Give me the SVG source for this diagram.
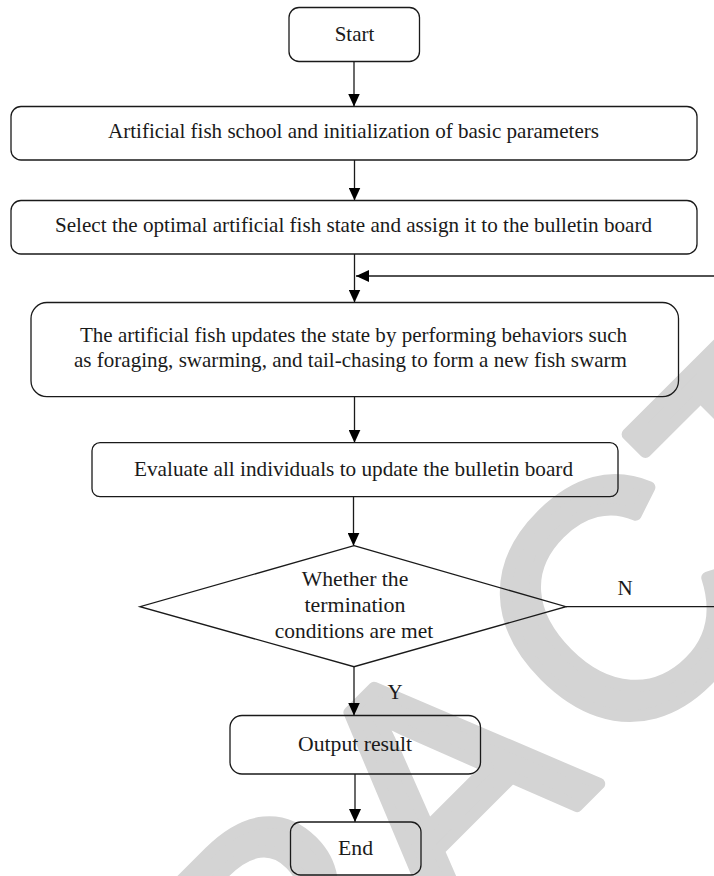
<svg xmlns="http://www.w3.org/2000/svg" width="714" height="876" viewBox="0 0 714 876">
<defs>
<style>
.box{fill:none;stroke:#1a1a1a;stroke-width:1.3}
.ln{fill:none;stroke:#1a1a1a;stroke-width:1.3}
.t{font-family:"Liberation Serif","Times New Roman",serif;font-size:21px;fill:#1a1a1a;text-anchor:middle}
.wm{font-family:"Liberation Sans",Arial,sans-serif;font-size:330px;fill:#d4d4d4;stroke:#d4d4d4;stroke-width:12;stroke-linejoin:round}
</style>
<marker id="ah" markerUnits="userSpaceOnUse" markerWidth="13" markerHeight="12" refX="13" refY="6" orient="auto">
<path d="M0,0 L13,6 L0,12 z" fill="#000"/>
</marker>
</defs>
<rect width="714" height="876" fill="#fff"/>
<g id="watermark">
<text class="wm" transform="translate(444,939) rotate(-45)" x="-898.3 -660 -439.9 -238.3 0 241 479.3 680.9 901" y="0">RETRACTED</text>
</g>
<g id="connectors">
<line class="ln" x1="354" y1="61.7" x2="354" y2="106.5" marker-end="url(#ah)"/>
<line class="ln" x1="354.5" y1="160" x2="354.5" y2="200.5" marker-end="url(#ah)"/>
<line class="ln" x1="354.5" y1="254" x2="354.5" y2="302.5" marker-end="url(#ah)"/>
<polyline class="ln" points="566,606.7 722,606.7 722,276 356,276" marker-end="url(#ah)"/>
<line class="ln" x1="354.5" y1="396.7" x2="354.5" y2="442.7" marker-end="url(#ah)"/>
<line class="ln" x1="353.5" y1="496.7" x2="353.5" y2="545.7" marker-end="url(#ah)"/>
<line class="ln" x1="354" y1="666.7" x2="354" y2="715.5" marker-end="url(#ah)"/>
<line class="ln" x1="355" y1="774" x2="355" y2="822" marker-end="url(#ah)"/>
<text class="t" x="625" y="595">N</text>
<text class="t" x="395" y="699">Y</text>
</g>
<g id="start">
<rect class="box" x="289" y="7.5" width="130.5" height="54" rx="10"/>
<text class="t" x="354.5" y="40.5" textLength="39.6" lengthAdjust="spacingAndGlyphs">Start</text>
</g>
<g id="init">
<rect class="box" x="11" y="106.5" width="686" height="53.5" rx="10"/>
<text class="t" x="353.5" y="138" textLength="491" lengthAdjust="spacingAndGlyphs">Artificial fish school and initialization of basic parameters</text>
</g>
<g id="select">
<rect class="box" x="11" y="200.5" width="686" height="53.5" rx="10"/>
<text class="t" x="353.5" y="232" textLength="597" lengthAdjust="spacingAndGlyphs">Select the optimal artificial fish state and assign it to the bulletin board</text>
</g>
<g id="update">
<rect class="box" x="31" y="302.5" width="647.5" height="94.2" rx="16"/>
<text class="t" x="353.5" y="341.7" textLength="547" lengthAdjust="spacingAndGlyphs">The artificial fish updates the state by performing behaviors such</text>
<text class="t" x="350.5" y="367" textLength="553" lengthAdjust="spacingAndGlyphs">as foraging, swarming, and tail-chasing to form a new fish swarm</text>
</g>
<g id="evaluate">
<rect class="box" x="92" y="442.7" width="526" height="54" rx="8"/>
<text class="t" x="353.5" y="475.7" textLength="439" lengthAdjust="spacingAndGlyphs">Evaluate all individuals to update the bulletin board</text>
</g>
<g id="decision">
<polygon class="box" points="354,545.7 566,606.7 354,666.7 140,606.7"/>
<text class="t" x="355" y="585.7" textLength="106.7" lengthAdjust="spacingAndGlyphs">Whether the</text>
<text class="t" x="355" y="611.7" textLength="101" lengthAdjust="spacingAndGlyphs">termination</text>
<text class="t" x="354" y="637.7" textLength="158.5" lengthAdjust="spacingAndGlyphs">conditions are met</text>
</g>
<g id="output">
<rect class="box" x="230" y="715.5" width="250.5" height="58.5" rx="12"/>
<text class="t" x="355" y="750.7" textLength="114" lengthAdjust="spacingAndGlyphs">Output result</text>
</g>
<g id="end">
<rect class="box" x="290.5" y="822" width="130.5" height="53" rx="10"/>
<text class="t" x="355.5" y="855" textLength="35" lengthAdjust="spacingAndGlyphs">End</text>
</g>
</svg>
